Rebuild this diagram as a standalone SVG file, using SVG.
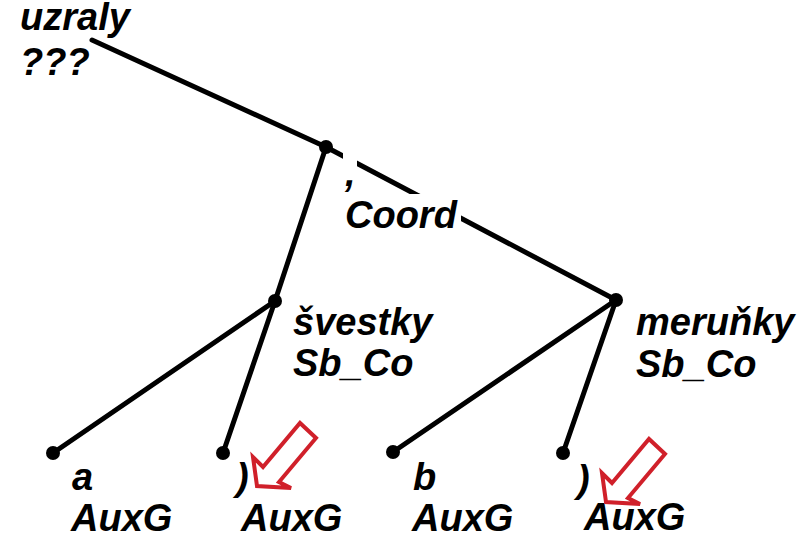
<svg xmlns="http://www.w3.org/2000/svg" width="798" height="538" viewBox="0 0 798 538">
<style>
.edge{stroke:#000;stroke-width:5;fill:none;stroke-linecap:round}
.dot{fill:#000}
.lbl{font-family:"Liberation Sans",Arial,sans-serif;font-size:38px;font-weight:bold;font-style:italic;fill:#000}
.bg{fill:#fff}
.arrow{fill:#fff;stroke:#d0202a;stroke-width:4;stroke-linejoin:miter}
</style>
<defs>
<polygon id="arr" class="arrow" points="257,486 253,457 263,467 300,423 316,438 279,482 291,488"/>
</defs>
<rect width="798" height="538" fill="#fff"/>
<g id="connectors">
<line class="edge" x1="92" y1="40" x2="326" y2="147"/>
<line class="edge" x1="326" y1="147" x2="616" y2="300"/>
<line class="edge" x1="326" y1="147" x2="275" y2="301"/>
<line class="edge" x1="275" y1="301" x2="53" y2="453"/>
<line class="edge" x1="275" y1="301" x2="223" y2="453"/>
<line class="edge" x1="616" y1="300" x2="393" y2="452"/>
<line class="edge" x1="616" y1="300" x2="563" y2="453"/>
</g>
<g id="root">
<text class="lbl" x="20" y="30">uzraly</text>
<text class="lbl" x="20" y="75">???</text>
</g>
<g id="coord">
<circle class="dot" cx="326" cy="147" r="7"/>
<rect class="bg" x="343" y="152" width="14" height="42"/>
<rect class="bg" x="345" y="194" width="116" height="38"/>
<text class="lbl" x="345" y="186">,</text>
<text class="lbl" x="345" y="228">Coord</text>
</g>
<g id="svestky">
<circle class="dot" cx="275" cy="301" r="7"/>
<text class="lbl" x="293" y="335">švestky</text>
<text class="lbl" x="293" y="376">Sb_Co</text>
</g>
<g id="merunky">
<circle class="dot" cx="616" cy="300" r="7"/>
<text class="lbl" x="636" y="335">meruňky</text>
<text class="lbl" x="636" y="377">Sb_Co</text>
</g>
<g id="leaf-a">
<circle class="dot" cx="53" cy="453" r="7"/>
<text class="lbl" x="72" y="490">a</text>
<text class="lbl" x="71" y="531">AuxG</text>
</g>
<g id="leaf-paren1">
<circle class="dot" cx="223" cy="453" r="7"/>
<text class="lbl" x="236" y="490">)</text>
<text class="lbl" x="241" y="531">AuxG</text>
</g>
<g id="leaf-b">
<circle class="dot" cx="393" cy="452" r="7"/>
<text class="lbl" x="413" y="490">b</text>
<text class="lbl" x="412" y="531">AuxG</text>
</g>
<g id="leaf-paren2">
<circle class="dot" cx="563" cy="453" r="7"/>
<text class="lbl" x="577" y="492">)</text>
<text class="lbl" x="584" y="530">AuxG</text>
</g>
<g id="arrow1"><use href="#arr"/></g>
<g id="arrow2"><use href="#arr" transform="translate(349,16)"/></g>
</svg>
